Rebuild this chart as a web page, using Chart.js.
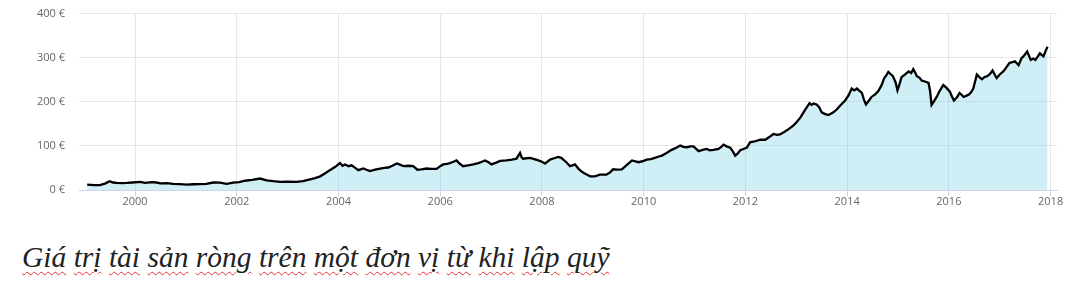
<!DOCTYPE html>
<html>
<head>
<meta charset="utf-8">
<script src="https://cdn.jsdelivr.net/npm/chart.js@4.4.1/dist/chart.umd.min.js"></script>
<style>
  html, body { margin: 0; padding: 0; background: #ffffff; }
  body { width: 1078px; height: 296px; position: relative; overflow: hidden; }
  #wrap { position: absolute; left: 0; top: -7px; width: 1078px; height: 229px; }
  #caption {
    position: absolute; left: 22px; top: 243px; margin: 0;
    font-family: "Liberation Serif", "Times New Roman", serif;
    font-style: italic; font-size: 29.5px; line-height: 29.5px; color: #222;
    white-space: nowrap;
  }
  #caption span {
    text-decoration: underline wavy #e53030;
    text-decoration-thickness: 1px;
    text-underline-offset: 4px;
  }
</style>
</head>
<body>
<div id="wrap"><canvas id="c"></canvas></div>
<p id="caption"></p>
<script>
const captionText = "Giá trị tài sản ròng trên một đơn vị từ khi lập quỹ";

const years = [
  1999.06, 1999.2, 1999.31, 1999.42, 1999.5, 1999.57, 1999.64, 1999.75, 1999.84, 1999.95,
  2000.1, 2000.2, 2000.33, 2000.42, 2000.5, 2000.62, 2000.75, 2000.88,
  2001.02, 2001.15, 2001.28, 2001.4, 2001.54, 2001.67, 2001.8, 2001.93,
  2002.05, 2002.16, 2002.3, 2002.46, 2002.59, 2002.72, 2002.85,
  2003.0, 2003.18, 2003.3, 2003.44, 2003.54, 2003.64, 2003.74, 2003.83, 2003.93,
  2004.03, 2004.08, 2004.13, 2004.2, 2004.26, 2004.33, 2004.39, 2004.49, 2004.55, 2004.62, 2004.72, 2004.82, 2004.9, 2004.98,
  2005.06, 2005.15, 2005.22, 2005.28, 2005.38, 2005.47, 2005.55, 2005.63, 2005.73, 2005.83, 2005.93,
  2006.0, 2006.06, 2006.13, 2006.19, 2006.26, 2006.32, 2006.38, 2006.45, 2006.55, 2006.65, 2006.75, 2006.82, 2006.88, 2006.95,
  2007.01, 2007.1, 2007.18, 2007.3, 2007.41, 2007.5, 2007.57, 2007.6, 2007.63, 2007.7, 2007.77, 2007.85, 2007.93,
  2008.0, 2008.06, 2008.16, 2008.24, 2008.32, 2008.38, 2008.42, 2008.48, 2008.55, 2008.6, 2008.65, 2008.72, 2008.78, 2008.85, 2008.95,
  2009.04, 2009.14, 2009.27, 2009.34, 2009.4, 2009.48, 2009.57, 2009.67, 2009.77, 2009.84, 2009.9,
  2010.0, 2010.06, 2010.14, 2010.22, 2010.3, 2010.36, 2010.45, 2010.55, 2010.64, 2010.72, 2010.78, 2010.85, 2010.92, 2010.98,
  2011.08, 2011.16, 2011.24, 2011.3, 2011.37, 2011.47, 2011.52, 2011.57, 2011.63, 2011.7, 2011.75, 2011.8, 2011.85, 2011.9, 2011.96,
  2012.03, 2012.09, 2012.18, 2012.29, 2012.39, 2012.47, 2012.55, 2012.62, 2012.68, 2012.77, 2012.85, 2012.94,
  2013.0, 2013.08, 2013.17, 2013.26, 2013.3, 2013.34, 2013.4, 2013.45, 2013.5, 2013.57, 2013.63, 2013.68, 2013.73, 2013.8, 2013.86, 2013.96,
  2014.03, 2014.09, 2014.14, 2014.19, 2014.25, 2014.29, 2014.33, 2014.37, 2014.43, 2014.48, 2014.55, 2014.61, 2014.67, 2014.73, 2014.77, 2014.81, 2014.86, 2014.9, 2014.95, 2014.99,
  2015.03, 2015.07, 2015.14, 2015.21, 2015.26, 2015.3, 2015.34, 2015.37, 2015.42, 2015.47, 2015.53, 2015.6, 2015.63, 2015.66, 2015.7, 2015.76, 2015.82, 2015.89, 2015.95,
  2016.02, 2016.06, 2016.1, 2016.16, 2016.21, 2016.25, 2016.29, 2016.35, 2016.4, 2016.44, 2016.48, 2016.52, 2016.55, 2016.6, 2016.65, 2016.7, 2016.75, 2016.8, 2016.86, 2016.9, 2016.94,
  2017.0, 2017.07, 2017.13, 2017.19, 2017.25, 2017.3, 2017.37, 2017.43, 2017.48, 2017.54, 2017.58, 2017.61, 2017.66, 2017.7, 2017.75, 2017.79, 2017.83, 2017.86, 2017.9, 2017.94
];

const navValues = [
  12, 11, 11, 15, 20, 17, 16, 15.5, 16, 17,
  18.6, 16, 18, 17, 15, 15.5, 14, 13.5,
  12, 13, 13.5, 14, 17, 16.5, 14, 16.5,
  18, 21, 23, 26, 22, 20, 18.6,
  19, 18.6, 20, 24, 27, 31, 38, 45, 52,
  61, 55, 58, 54, 56, 50, 45, 49, 46, 43, 46, 48.7, 50, 51,
  55, 60, 57, 54, 55, 54, 46, 47, 48.7, 48, 48,
  54, 58, 59, 61, 64, 67, 60, 54, 56, 58, 61, 64, 67, 63,
  58, 62, 66, 67, 69, 71, 84, 74, 71, 72, 73, 70, 67,
  64, 60, 69, 72, 75, 73, 69, 63, 54, 56, 58, 48, 42, 37, 31,
  31, 35, 35, 40, 47, 46, 47, 57, 67, 65, 63,
  66, 69, 70, 73, 76, 78, 84, 91, 96, 101, 98, 97, 99, 99,
  88, 91, 93, 90, 91, 93, 97, 103, 99, 96, 88, 78, 83, 90, 93,
  96, 108, 110, 114, 114, 120, 127, 125, 126, 132, 138, 146,
  153, 164, 181, 197, 193, 196, 194, 188, 176, 172, 170, 173, 176, 183, 191, 203,
  215, 230, 226, 230, 224, 220, 205, 194, 203, 211, 217, 224, 236, 254, 260, 268, 262, 258, 245, 226,
  240, 256, 262, 269, 265, 274, 266, 258, 255, 248, 246, 243, 225, 193, 200, 211, 225, 238, 232,
  223, 212, 203, 210, 220, 216, 211, 214, 217, 222, 230, 248, 262, 256, 251, 256, 258, 262, 271, 262, 254,
  262, 269, 278, 288, 290, 292, 283, 299, 305, 314, 303, 295, 298, 295, 303, 310, 306, 303, 315, 325
];

const xTickYears = [2000, 2002, 2004, 2006, 2008, 2010, 2012, 2014, 2016, 2018];
const yTickValues = [0, 100, 200, 300, 400];
const xMin = 1998.899, xMax = 2018.126;

// caption with per-word wavy underline (like a spell-checker)
const cap = document.getElementById('caption');
captionText.split(' ').forEach((w, i, arr) => {
  const s = document.createElement('span');
  s.textContent = w;
  cap.appendChild(s);
  if (i < arr.length - 1) cap.appendChild(document.createTextNode(' '));
});

const points = years.map((x, i) => ({ x: x, y: navValues[i] }));

const labelFont = { family: '"Open Sans", "DejaVu Sans", sans-serif', size: 11 };

new Chart(document.getElementById('c'), {
  type: 'line',
  data: {
    datasets: [{
      data: points,
      borderColor: '#000000',
      borderWidth: 2.3,
      backgroundColor: 'rgba(124, 208, 230, 0.37)',
      fill: 'origin',
      pointRadius: 0,
      tension: 0
    }]
  },
  options: {
    responsive: true,
    maintainAspectRatio: false,
    animation: false,
    events: [],
    layout: { padding: { left: 0, right: 21, top: 4.7, bottom: 0 } },
    plugins: { legend: { display: false }, tooltip: { enabled: false } },
    scales: {
      x: {
        type: 'linear',
        min: xMin,
        max: xMax,
        afterBuildTicks: (s) => { s.ticks = xTickYears.map(v => ({ value: v })); },
        afterFit: (s) => { s.height = 32; },
        grid: { color: '#e6e6e6', lineWidth: 1, drawTicks: true, tickLength: 6, tickColor: '#ccd6eb' },
        border: { display: true, color: '#ccd6eb', width: 1 },
        ticks: {
          color: '#666666', font: labelFont, padding: -1, maxRotation: 0, autoSkip: false,
          callback: (v) => String(v)
        }
      },
      y: {
        min: 0,
        max: 400,
        afterBuildTicks: (s) => { s.ticks = yTickValues.map(v => ({ value: v })); },
        afterFit: (s) => { s.width = 79; },
        grid: {
          color: (ctx) => (ctx.tick && ctx.tick.value === 0) ? '#ccd6eb' : '#e6e6e6',
          lineWidth: 1, drawTicks: false
        },
        border: { display: false },
        ticks: {
          color: '#666666', font: labelFont, padding: 14,
          callback: (v) => v + ' €'
        }
      }
    }
  }
});
</script>
</body>
</html>
